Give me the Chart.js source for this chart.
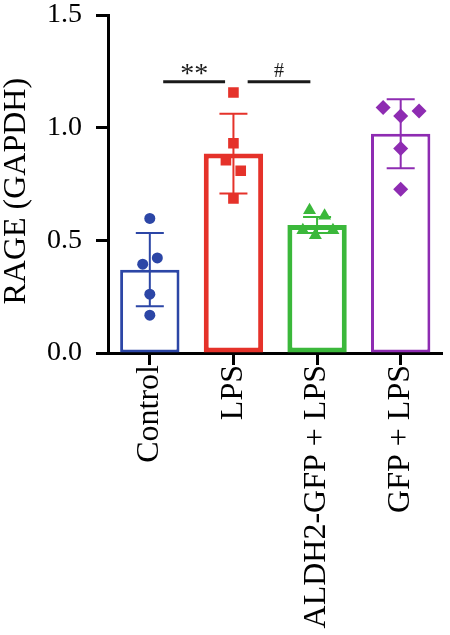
<!DOCTYPE html>
<html>
<head>
<meta charset="utf-8">
<script src="https://cdn.jsdelivr.net/npm/chart.js@4/dist/chart.umd.min.js"></script>
<style>
    html, body { margin: 0; padding: 0; background: #ffffff; }
    #wrap { width: 450px; height: 635px; }
</style>
</head>
<body>
<div id="wrap"><canvas id="chart-rage"></canvas></div>
<script>
// dados
const categories = ['Control', 'LPS', 'ALDH2-GFP + LPS', 'GFP + LPS'];
const meanValues = [0.37, 0.885, 0.568, 0.973];
const sdValues = [0.162, 0.177, 0.035, 0.153];

const controlPoints = [0.597, 0.422, 0.394, 0.261, 0.168];
const controlJitter = [0, 0.09, -0.085, 0, 0];
const lpsPoints = [1.156, 0.931, 0.856, 0.809, 0.686];
const lpsJitter = [0, 0, -0.09, 0.087, 0];
const aldh2Points = [0.634, 0.609, 0.545, 0.523, 0.545];
const aldh2Jitter = [-0.09, 0.09, -0.17, -0.02, 0.19];
const gfpPoints = [1.089, 1.052, 1.074, 0.908, 0.727];
const gfpJitter = [-0.21, 0, 0.22, 0, 0];

const yTicks = [0, 0.5, 1.0, 1.5];

// significancia
const sigLabels = ['**', '#'];
const sigFrom = [0.16, 1.17];
const sigTo = [0.9, 1.92];
const sigLevel = [1.204, 1.204];

const colors = ['#2c46a6', '#e5322a', '#3bb83b', '#8e2cb2'];
const serif = '"Liberation Serif", "Times New Roman", serif';

function toPoints(values, jitter, idx) {
    return values.map((v, i) => ({ x: idx + jitter[i], y: v }));
}

const errorBarPlugin = {
    id: 'errorBars',
    afterDatasetDraw(chart, args) {
        if (args.index !== 0) return;
        const ctx = chart.ctx;
        const y = chart.scales.y;
        const meta = chart.getDatasetMeta(0);
        ctx.save();
        ctx.lineWidth = 2;
        meta.data.forEach((bar, i) => {
            const top = y.getPixelForValue(meanValues[i] + sdValues[i]);
            const bottom = y.getPixelForValue(meanValues[i] - sdValues[i]);
            const half = 14;
            ctx.strokeStyle = colors[i];
            ctx.beginPath();
            ctx.moveTo(bar.x, top);
            ctx.lineTo(bar.x, bottom);
            ctx.moveTo(bar.x - half, top);
            ctx.lineTo(bar.x + half, top);
            ctx.moveTo(bar.x - half, bottom);
            ctx.lineTo(bar.x + half, bottom);
            ctx.stroke();
        });
        ctx.restore();
    }
};

const sigPlugin = {
    id: 'sigLines',
    afterDraw(chart) {
        const ctx = chart.ctx;
        const x = chart.scales.x;
        const y = chart.scales.y;
        const fontSizes = [28, 20];
        const lift = [0, 5];
        ctx.save();
        ctx.strokeStyle = '#1a1a1a';
        ctx.fillStyle = '#1a1a1a';
        ctx.lineWidth = 3;
        sigLabels.forEach((label, i) => {
            const a = x.getPixelForValue(sigFrom[i]);
            const b = x.getPixelForValue(sigTo[i]);
            const py = y.getPixelForValue(sigLevel[i]);
            ctx.beginPath();
            ctx.moveTo(a, py);
            ctx.lineTo(b, py);
            ctx.stroke();
            ctx.font = fontSizes[i] + 'px ' + serif;
            ctx.textAlign = 'center';
            ctx.textBaseline = 'alphabetic';
            ctx.fillText(label, (a + b) / 2, py - lift[i]);
        });
        ctx.restore();
    }
};

const pointSets = [
    { data: toPoints(controlPoints, controlJitter, 0), style: 'circle', r: 5.5 },
    { data: toPoints(lpsPoints, lpsJitter, 1), style: 'rect', r: 7.5 },
    { data: toPoints(aldh2Points, aldh2Jitter, 2), style: 'triangle', r: 7.5 },
    { data: toPoints(gfpPoints, gfpJitter, 3), style: 'rectRot', r: 7.5 }
];

const ctx = document.getElementById('chart-rage').getContext('2d');
new Chart(ctx, {
    type: 'bar',
    data: {
        datasets: [
            {
                data: meanValues.map((v, i) => ({ x: i, y: v })),
                backgroundColor: '#ffffff',
                borderColor: colors,
                borderWidth: [3, 5, 5, 3],
                borderSkipped: false,
                grouped: false,
                barPercentage: 0.71,
                categoryPercentage: 1,
                order: 1
            },
            ...pointSets.map((s, i) => ({
                type: 'scatter',
                data: s.data,
                pointStyle: s.style,
                pointRadius: s.r,
                pointBackgroundColor: colors[i],
                pointBorderWidth: 0,
                order: 0
            }))
        ]
    },
    options: {
        responsive: true,
        maintainAspectRatio: false,
        animation: false,
        layout: { padding: { top: 15, right: 2, left: 0, bottom: 0 } },
        plugins: {
            legend: { display: false },
            tooltip: { enabled: false }
        },
        scales: {
            x: {
                type: 'linear',
                min: -0.5,
                max: 3.5,
                offset: false,
                afterBuildTicks(scale) { scale.ticks = categories.map((c, i) => ({ value: i })); },
                grid: { offset: false, drawOnChartArea: false, drawTicks: true, tickLength: 12, tickWidth: 3, tickColor: '#000' },
                border: { color: '#000', width: 3 },
                ticks: {
                    color: '#000',
                    font: { family: serif, size: 32 },
                    minRotation: 90,
                    maxRotation: 90,
                    autoSkip: false,
                    padding: 0,
                    callback: v => categories[v]
                },
                afterFit(scale) {
                    scale.height = 282;
                    scale.paddingLeft = 0;
                    scale.paddingRight = 0;
                }
            },
            y: {
                min: 0,
                max: 1.5,
                afterBuildTicks(scale) { scale.ticks = yTicks.map(v => ({ value: v })); },
                grid: { drawOnChartArea: false, drawTicks: true, tickLength: 12, tickWidth: 3, tickColor: '#000' },
                border: { color: '#000', width: 3 },
                ticks: {
                    color: '#000',
                    font: { family: serif, size: 28 },
                    padding: 14,
                    callback: v => Number(v).toFixed(1)
                },
                title: {
                    display: true,
                    text: 'RAGE (GAPDH)\u00a0\u2009',
                    color: '#000',
                    font: { family: serif, size: 32, lineHeight: 1.05 },
                    padding: 0
                },
                afterFit(scale) {
                    scale.width = 108;
                    scale.paddingTop = 0;
                    scale.paddingBottom = 0;
                }
            }
        }
    },
    plugins: [errorBarPlugin, sigPlugin]
});
</script>
</body>
</html>
